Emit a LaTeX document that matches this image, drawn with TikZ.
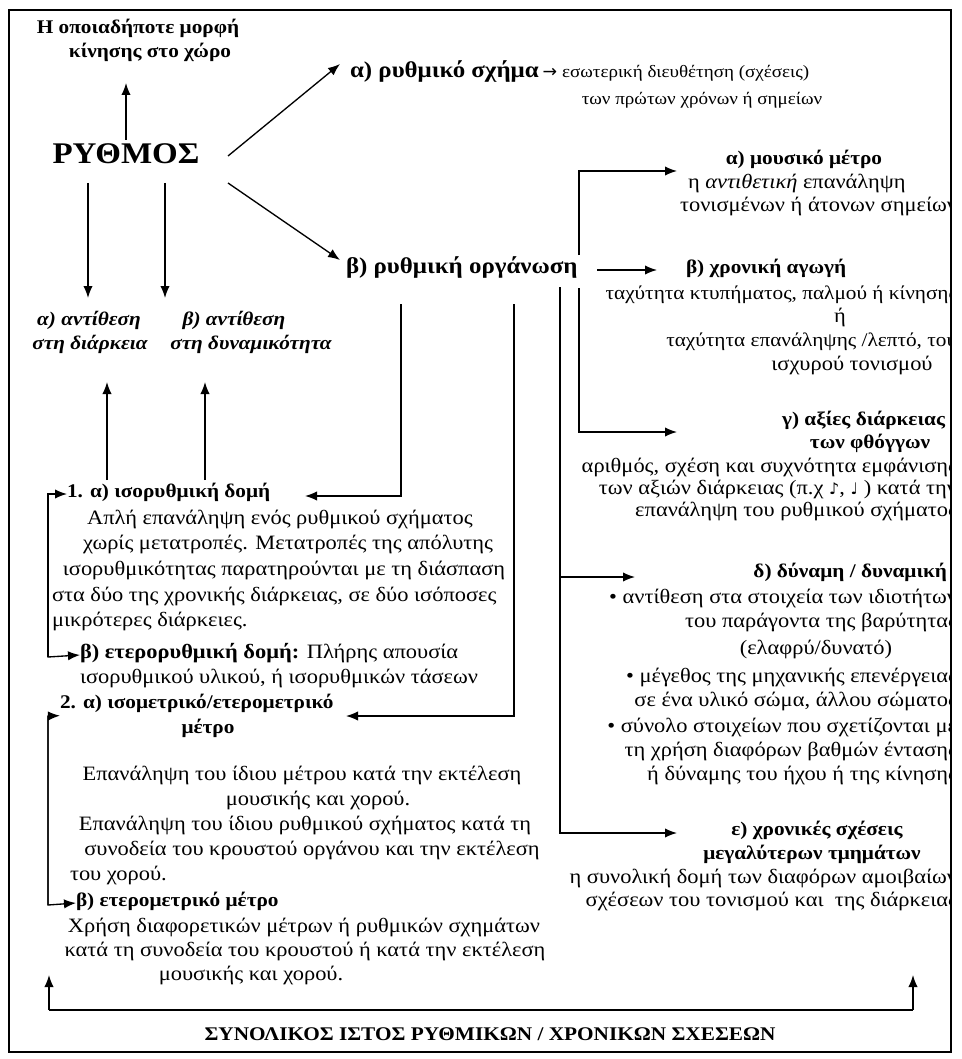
\documentclass[tikz,border=0pt]{standalone}
\usepackage{fontspec}
\setmainfont{Liberation Serif}[FakeStretch=1.1]
\newfontfamily\symfont{DejaVu Sans}
\usetikzlibrary{arrows.meta}
\begin{document}
\begin{tikzpicture}[x=0.75pt,y=-0.75pt,
  every node/.style={inner sep=0pt,outer sep=0pt},
  body/.style={font=\fontsize{15.3}{18}\selectfont},
  bodys/.style={font=\fontsize{14.5}{17}\selectfont},
  small/.style={font=\fontsize{13}{16}\selectfont},
  head/.style={font=\fontsize{14.5}{17}\selectfont\bfseries},
  headit/.style={font=\fontsize{14.5}{17}\selectfont\bfseries\itshape},
  big/.style={font=\fontsize{17}{20}\selectfont\bfseries},
  huge/.style={font=\fontsize{22.5}{27}\selectfont\bfseries},
  arr/.style={draw, line width=1pt, -{Latex[length=9pt,width=7pt]}},
  ln/.style={draw, line width=1pt}]
\useasboundingbox (0,0) rectangle (961,1059);
\fill[white] (0,0) rectangle (961,1059);

% ---------- top left ----------
\node[head,anchor=mid] (top1) at (138,30) {Η οποιαδήποτε μορφή};
\node[head,anchor=mid] (top2) at (150,54) {κίνησης στο χώρο};
\node[huge,anchor=mid] (ryth) at (126,160) {ΡΥΘΜΟΣ};
\coordinate (rup0) at (126,140);
\coordinate (rup1) at (126,83);
\draw[arr] (rup0) -- (rup1);

\coordinate (d1a) at (228,156);
\coordinate (d1b) at (340,64);
\coordinate (d2a) at (228,183);
\coordinate (d2b) at (340,260);
\draw[arr] (d1a) -- (d1b);
\draw[arr] (d2a) -- (d2b);

% ---------- rhythmic schema ----------
\node[big,anchor=mid west] (schema) at (350,74) {α) ρυθμικό σχήμα};
\node[small,anchor=mid west] (schemaT) at ([xshift=3pt]schema.mid east) {{\symfont →} εσωτερική διευθέτηση (σχέσεις)};
\node[small,anchor=mid] (schemaT2) at (702,101) {των πρώτων χρόνων ή σημείων};

% ---------- antithesis ----------
\node[headit,anchor=mid] (a1) at (89,322) {α) αντίθεση};
\node[headit,anchor=mid] (a2) at (90,346) {στη διάρκεια};
\node[headit,anchor=mid] (b1) at (234,322) {β) αντίθεση};
\node[headit,anchor=mid] (b2) at (251,346) {στη δυναμικότητα};
\coordinate (dn1a) at (88,183);
\coordinate (dn1b) at (88,298);
\coordinate (dn2a) at (165,183);
\coordinate (dn2b) at (165,298);
\draw[arr] (dn1a) -- (dn1b);
\draw[arr] (dn2a) -- (dn2b);
\coordinate (up1a) at (107,480);
\coordinate (up1b) at (107,382);
\coordinate (up2a) at (205,480);
\coordinate (up2b) at (205,382);
\draw[arr] (up1a) -- (up1b);
\draw[arr] (up2a) -- (up2b);

% ---------- rhythmic organisation ----------
\node[big,anchor=mid west] (org) at (346,270) {β) ρυθμική οργάνωση};

% branch A (x=579)
\coordinate (A0) at (579,255);
\coordinate (A1) at (579,171);
\coordinate (A2) at (677,171);
\coordinate (A3) at (579,288);
\coordinate (A4) at (579,432);
\coordinate (A5) at (677,432);
\draw[arr] (A0) -- (A1) -- (A2);
\draw[arr] (A3) -- (A4) -- (A5);
\coordinate (Ba) at (597,270);
\coordinate (Bb) at (657,270);
\draw[arr] (Ba) -- (Bb);
% branch B (x=560)
\coordinate (B0) at (560,287);
\coordinate (B1) at (560,577);
\coordinate (B2) at (635,577);
\coordinate (B3) at (560,833);
\coordinate (B4) at (677,833);
\draw[ln] (B0) -- (B1);
\draw[arr] (B1) -- (B2);
\draw[arr] (B1) -- (B3) -- (B4);
% branch C (x=514)
\coordinate (C0) at (514,304);
\coordinate (C1) at (514,716);
\coordinate (C2) at (346,716);
\draw[arr] (C0) -- (C1) -- (C2);
% branch D (x=401)
\coordinate (D0) at (401,304);
\coordinate (D1) at (401,496);
\coordinate (D2) at (305,496);
\draw[arr] (D0) -- (D1) -- (D2);

% ---------- right column (clipped at frame) ----------
\begin{scope}
\clip (9,10) rectangle (951,1052);
\node[head,anchor=mid] (mm) at (804,161) {α) μουσικό μέτρο};
\node[body,anchor=mid west] (mm2) at (688,185) {η \textit{αντιθετική} επανάληψη};
\node[body,anchor=mid east] (mm3) at (957,208) {τονισμένων ή άτονων σημείων};

\node[head,anchor=mid west] (ag) at (686,270) {β) χρονική αγωγή};
\node[bodys,anchor=mid east] (ag2) at (957,296) {ταχύτητα κτυπήματος, παλμού ή κίνησης};
\node[body,anchor=mid] (ag3) at (840,319) {ή};
\node[bodys,anchor=mid east] (ag4) at (957,343) {ταχύτητα επανάληψης /λεπτό, του};
\node[body,anchor=mid] (ag5) at (852,367) {ισχυρού τονισμού};

\node[head,anchor=mid east] (ax) at (945,422) {γ) αξίες διάρκειας};
\node[head,anchor=mid] (ax2) at (870,445) {των φθόγγων};
\node[body,anchor=mid east] (ax3) at (957,469) {αριθμός, σχέση και συχνότητα εμφάνισης};
\node[body,anchor=mid east] (ax4) at (957,491) {των αξιών διάρκειας (π.χ {\symfont\fontsize{12}{12}\selectfont ♪}, {\symfont\fontsize{12}{12}\selectfont ♩} ) κατά την};
\node[body,anchor=mid east] (ax5) at (957,513) {επανάληψη του ρυθμικού σχήματος};

\node[head,anchor=mid east] (dy) at (947,574) {δ) δύναμη / δυναμική};
\node[body,anchor=mid east] (dy1) at (957,600) {• αντίθεση στα στοιχεία των ιδιοτήτων};
\node[body,anchor=mid east] (dy2) at (957,624) {του παράγοντα της βαρύτητας};
\node[body,anchor=mid] (dy3) at (816,651) {(ελαφρύ/δυνατό)};
\node[body,anchor=mid east] (dy4) at (957,679) {• μέγεθος της μηχανικής επενέργειας};
\node[body,anchor=mid east] (dy5) at (957,703) {σε ένα υλικό σώμα, άλλου σώματος};
\node[body,anchor=mid east] (dy6) at (957,729) {• σύνολο στοιχείων που σχετίζονται με};
\node[body,anchor=mid east] (dy7) at (957,753) {τη χρήση διαφόρων βαθμών έντασης};
\node[body,anchor=mid east] (dy8) at (957,777) {ή δύναμης του ήχου ή της κίνησης};

\node[head,anchor=mid] (xs) at (817,832) {ε) χρονικές σχέσεις};
\node[head,anchor=mid] (xs2) at (812,856) {μεγαλύτερων τμημάτων};
\node[body,anchor=mid east] (xs3) at (957,880) {η συνολική δομή των διαφόρων αμοιβαίων};
\node[body,anchor=mid east] (xs4) at (957,903) {σχέσεων του τονισμού και \ της διάρκειας};
\end{scope}

% ---------- left block ----------
\node[head,anchor=mid west] (iso) at (67,494) {1. α) ισορυθμική δομή};
\node[body,anchor=mid] (l1) at (280,521) {Απλή επανάληψη ενός ρυθμικού σχήματος};
\node[body,anchor=mid] (l2) at (288,546) {χωρίς μετατροπές. Μετατροπές της απόλυτης};
\node[body,anchor=mid] (l3) at (284,572) {ισορυθμικότητας παρατηρούνται με τη διάσπαση};
\node[body,anchor=mid west] (l4) at (52,598) {στα δύο της χρονικής διάρκειας, σε δύο ισόποσες};
\node[body,anchor=mid west] (l5) at (52,623) {μικρότερες διάρκειες.};
\node[body,anchor=mid west] (het) at (80,655) {\textbf{β) ετερορυθμική δομή:} Πλήρης απουσία};
\node[body,anchor=mid west] (het2) at (80,680) {ισορυθμικού υλικού, ή ισορυθμικών τάσεων};
\node[head,anchor=mid west] (im) at (60,705) {2. α) ισομετρικό/ετερομετρικό};
\node[head,anchor=mid] (im2) at (208,730) {μέτρο};
\node[body,anchor=mid] (p1) at (302,777) {Επανάληψη του ίδιου μέτρου κατά την εκτέλεση};
\node[body,anchor=mid] (p2) at (318,802) {μουσικής και χορού.};
\node[body,anchor=mid] (p3) at (305,827) {Επανάληψη του ίδιου ρυθμικού σχήματος κατά τη};
\node[body,anchor=mid] (p4) at (312,852) {συνοδεία του κρουστού οργάνου και την εκτέλεση};
\node[body,anchor=mid west] (p5) at (70,877) {του χορού.};
\node[head,anchor=mid west] (het3) at (76,903) {β) ετερομετρικό μέτρο};
\node[body,anchor=mid] (q1) at (304,929) {Χρήση διαφορετικών μέτρων ή ρυθμικών σχημάτων};
\node[body,anchor=mid] (q2) at (305,953) {κατά τη συνοδεία του κρουστού ή κατά την εκτέλεση};
\node[body,anchor=mid] (q3) at (251,977) {μουσικής και χορού.};

% left brackets
\coordinate (k1a) at (48,494);
\coordinate (k1b) at (48,657);
\draw[arr] (k1b) -- (k1a) -- (iso.mid west);
\draw[arr] (k1a) -- (k1b) -- (het.mid west);
\coordinate (k2a) at (48,716);
\coordinate (k2b) at (48,905);
\draw[arr] (k2b) -- (k2a) -- ([yshift=-8pt]im.mid west);
\draw[arr] (k2a) -- (k2b) -- (het3.mid west);

% ---------- bottom ----------
\coordinate (bl0) at (49,1010);
\coordinate (bl1) at (49,975);
\coordinate (br0) at (913,1010);
\coordinate (br1) at (913,975);
\draw[ln] (bl0) -- (br0);
\draw[arr] (bl0) -- (bl1);
\draw[arr] (br0) -- (br1);
\node[head,anchor=mid] (title) at (490,1037) {ΣΥΝΟΛΙΚΟΣ ΙΣΤΟΣ ΡΥΘΜΙΚΩΝ / ΧΡΟΝΙΚΩΝ ΣΧΕΣΕΩΝ};

% frame
\draw[line width=1.2pt] (9,10) rectangle (951,1052);
\end{tikzpicture}
\end{document}
